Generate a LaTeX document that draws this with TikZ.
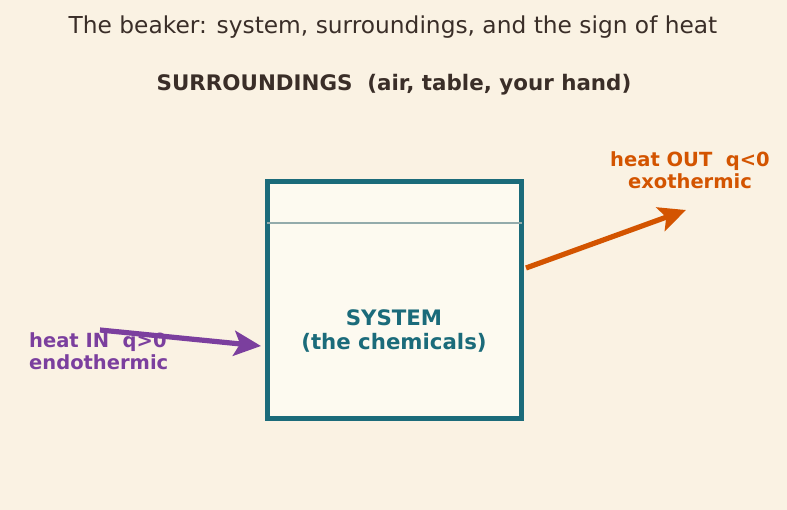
\documentclass[tikz,border=0pt]{standalone}
\usepackage{fontspec}
\setmainfont{DejaVu Sans}
\usetikzlibrary{arrows.meta}
\definecolor{bg}{HTML}{FAF2E3}
\definecolor{boxfill}{HTML}{FDFAF0}
\definecolor{teal}{HTML}{1B6B7A}
\definecolor{rim}{HTML}{93ABAB}
\definecolor{ink}{HTML}{3A2E28}
\definecolor{purp}{HTML}{7B3F9E}
\definecolor{orng}{HTML}{D35400}
\tikzset{
  lbl/.style={font=\bfseries\fontsize{19.5}{22}\selectfont, align=center, inner sep=0pt},
  heatarrow/.style={line width=5.2pt, -{Stealth[length=27pt,width=25pt,inset=6pt]}},
}
\begin{document}
\begin{tikzpicture}[x=1pt,y=-1pt]
\fill[bg] (0,0) rectangle (787,510);
\useasboundingbox (0,0) rectangle (787,510);
\node[inner sep=0pt, text=ink, font=\fontsize{23.3}{26}\selectfont] (title) at (393,27) {The beaker: system, surroundings, and the sign of heat};
\node[inner sep=0pt, text=ink, font=\bfseries\fontsize{21.4}{25}\selectfont] (surr) at (394,84.5) {SURROUNDINGS\ \ (air, table, your hand)};
\node[draw=teal, fill=boxfill, line width=5pt, minimum width=254pt, minimum height=237pt, inner sep=0pt] (sys) at (394.5,300) {};
\draw[rim, line width=2.8pt] (267,223) -- (522,223);
\node[lbl, text=teal, font=\bfseries\fontsize{21.3}{23.5}\selectfont] (syslbl) at (394,331) {SYSTEM\\(the chemicals)};
\node[lbl, text=purp, align=left, anchor=west] (inlbl) at (29,351) {heat IN\ \ q>0\\endothermic};
\node[lbl, text=orng] (outlbl) at (690,170) {heat OUT\ \ q<0\\exothermic};
\coordinate (inStart) at (100,330);
\coordinate (inEnd) at (261,346);
\coordinate (outStart) at (526,268);
\coordinate (outEnd) at (686,210);
\draw[heatarrow, purp] (inStart) -- (inEnd);
\draw[heatarrow, orng] (outStart) -- (outEnd);
\end{tikzpicture}
\end{document}
